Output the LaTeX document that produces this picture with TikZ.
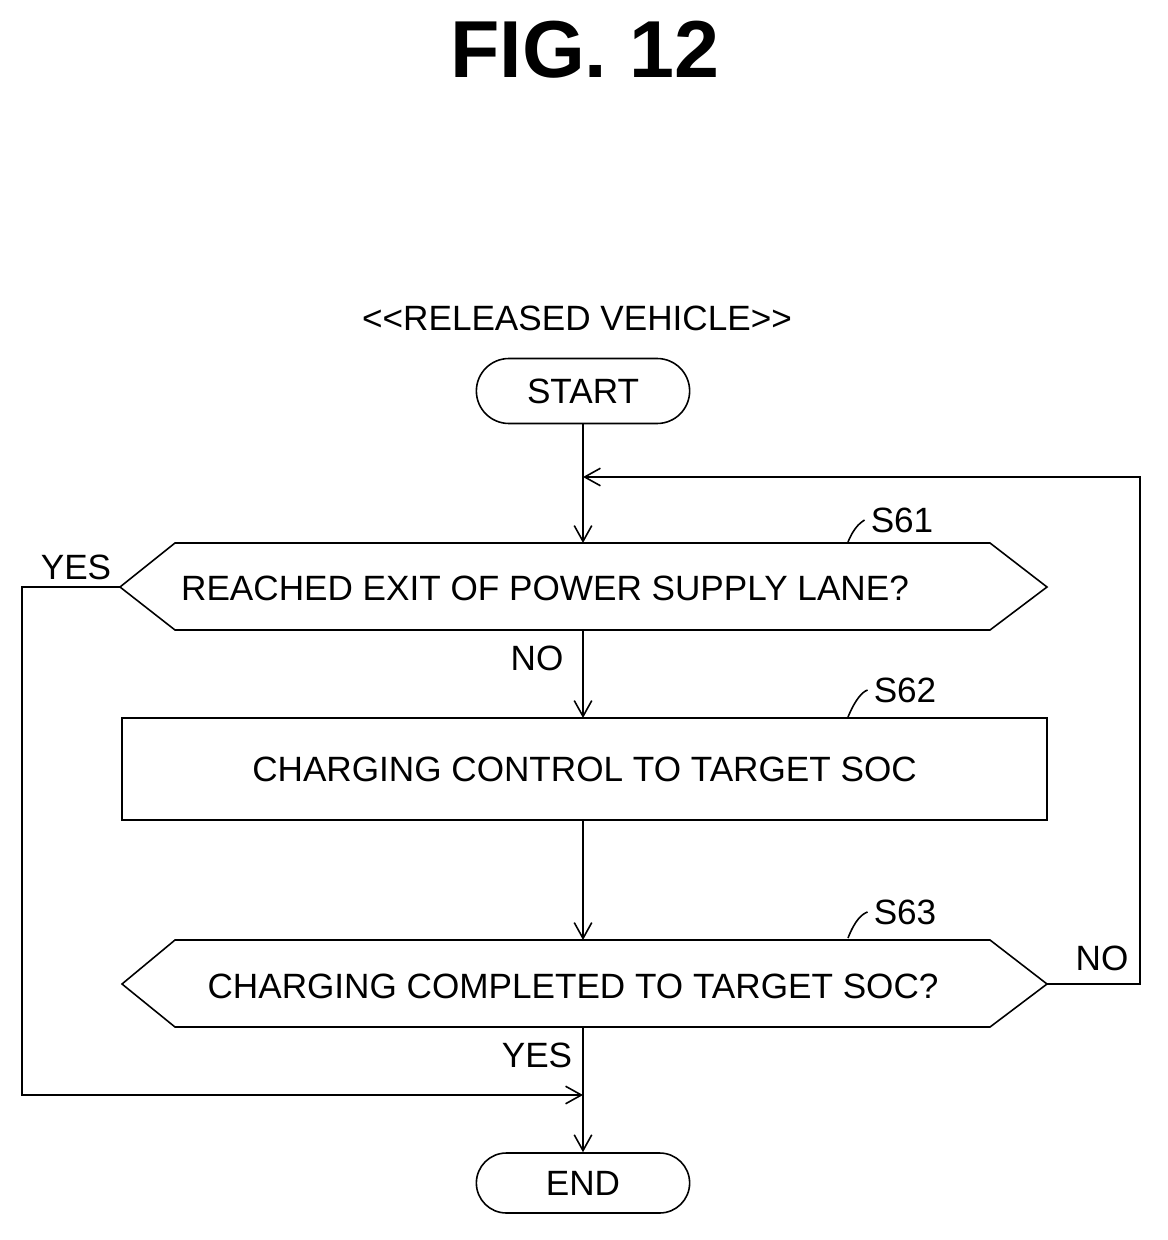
\documentclass[tikz,border=0pt]{standalone}
\usepackage{fontspec}
\setmainfont{Liberation Sans}
\usetikzlibrary{shapes.misc,arrows.meta}

\tikzset{
	flow/.style={line width=0.9pt},
	arr/.style={flow,-{Straight Barb[length=9pt,width=10pt]}},
	term/.style={flow,draw,rounded rectangle,minimum width=4.5cm,minimum height=1.3cm,font=\fontsize{20}{24}\selectfont},
	txt/.style={font=\fontsize{20}{24}\selectfont},
}

\begin{document}
\begin{tikzpicture}[x=0.02cm,y=-0.02cm]
\useasboundingbox (0,0) rectangle (1167,1240);

\node [font=\fontsize{46}{52}\selectfont\bfseries] (T) at (585,50) {FIG. 12};
\node [txt] (R) at (577,318) {<{}<RELEASED VEHICLE>{}>};

\node [term] (S) at (583,391) {START};
\node [term,minimum height=1.2cm] (E) at (583,1183) {END};

% decision S61
\draw [flow] (120,587) -- (175,543) -- (990,543) -- (1047,587) -- (990,630) -- (175,630) -- cycle;
\coordinate (D1t) at (583,543);
\coordinate (D1b) at (583,630);
\coordinate (D1l) at (120,587);
\node [txt] (D1) at (545,588) {REACHED EXIT OF POWER SUPPLY LANE?};

% process S62
\node [flow,draw,minimum width=18.5cm,minimum height=2.04cm,txt] (P) at (584.5,769) {CHARGING CONTROL TO TARGET SOC};
\coordinate (Pt) at (583,718);
\coordinate (Pb) at (583,820);

% decision S63
\draw [flow] (122,984) -- (175,940) -- (990,940) -- (1047,984) -- (990,1027) -- (175,1027) -- cycle;
\coordinate (D2t) at (583,940);
\coordinate (D2b) at (583,1027);
\coordinate (D2r) at (1047,984);
\node [txt] (D2) at (573,986) {CHARGING COMPLETED TO TARGET SOC?};

% connectors
\draw [arr] (S.south) -- (D1t);
\draw [arr] (D1b) -- (Pt);
\draw [arr] (Pb) -- (D2t);
\draw [arr] (D2b) -- (E.north);
\coordinate (J1) at (583,477);
\coordinate (J2) at (583,1095);
\draw [arr] (D2r) -- (1140,984) -- (1140,477) -- (J1);
\draw [arr] (D1l) -- (22,587) -- (22,1095) -- (J2);

\node [txt] (n1) at (537,658) {NO};
\node [txt] (y1) at (76,567) {YES};
\node [txt] (n2) at (1102,958) {NO};
\node [txt] (y2) at (537,1055) {YES};

% step labels
\node [txt] (L1) at (902,520) {S61};
\node [txt] (L2) at (905,690) {S62};
\node [txt] (L3) at (905,912) {S63};
\draw [flow] (848,542) .. controls (855,525) and (862,522) .. (L1.west);
\draw [flow] (848,717) .. controls (855,700) and (862,692) .. (L2.west);
\draw [flow] (848,938) .. controls (855,920) and (862,914) .. (L3.west);
\end{tikzpicture}
\end{document}
